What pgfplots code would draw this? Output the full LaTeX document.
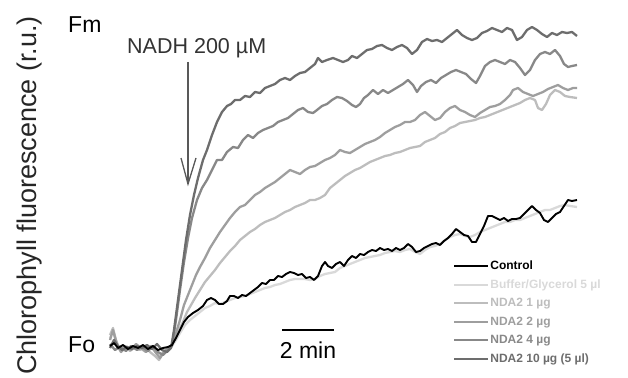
\documentclass[border=0pt]{standalone}
\usepackage{pgfplots}
\pgfplotsset{compat=1.18}
\usepackage{fontspec}
\setmainfont{Liberation Sans}
\definecolor{cCtl}{HTML}{000000}
\definecolor{cBuf}{HTML}{D9D9D9}
\definecolor{cOne}{HTML}{BDBDBD}
\definecolor{cTwo}{HTML}{9E9E9E}
\definecolor{cFour}{HTML}{888888}
\definecolor{cTen}{HTML}{6D6D6D}
\begin{document}
\begin{tikzpicture}
\path[use as bounding box] (0pt,0pt) rectangle (628pt,377pt);
\clip (0pt,0pt) rectangle (628pt,377pt);
\begin{axis}[
  at={(0pt,0pt)}, anchor=south west,
  scale only axis, width=628pt, height=377pt,
  xmin=0, xmax=628, ymin=0, ymax=377, y dir=reverse,
  hide axis, clip=false,
  legend style={at={(axis cs:450,257)}, anchor=north west, draw=none, fill=none,
    font=\fontsize{12}{14}\selectfont\bfseries, row sep=4.5pt,
    nodes={inner sep=1pt, text height=9.5pt, text depth=2.5pt}},
  legend cell align=left,
  legend image code/.code={\draw[#1] (0pt,0pt) -- (34pt,0pt);},
  every axis plot/.append style={line width=2.3pt, line join=round},
]
\addlegendimage{cCtl, line width=2.2pt}
\addlegendentry{\textcolor{cCtl}{Control}}
\addlegendimage{cBuf, line width=2.2pt}
\addlegendentry{\textcolor{cBuf}{Buffer/Glycerol 5 µl}}
\addlegendimage{cOne, line width=2.2pt}
\addlegendentry{\textcolor{cOne}{NDA2 1 µg}}
\addlegendimage{cTwo, line width=2.2pt}
\addlegendentry{\textcolor{cTwo}{NDA2 2 µg}}
\addlegendimage{cFour, line width=2.2pt}
\addlegendentry{\textcolor{cFour}{NDA2 4 µg}}
\addlegendimage{cTen, line width=2.2pt}
\addlegendentry{\textcolor{cTen}{NDA2 10 µg (5 µl)}}

% Buffer/Glycerol
\addplot[cBuf, forget plot] coordinates {
(110,338)(113,331)(117,344)(121,350)(126,346)(131,349)(136,345)(141,349)(146,352)(151,347)(156,352)(160,356)(164,351)(168,348)(172,346)(176,340)(180,333)(185,325)(190,320)(195,316)(200,312)(205,308)(210,306)(215,303)(220,304)(225,302)(230,300)(235,298)(240,297)(245,296)(250,294)(255,292)(260,290)(265,288)(270,287)(275,285)(280,284)(285,282)(290,280)(295,279)(300,279)(305,279)(310,280)(315,279)(320,276)(325,274)(330,273)(335,272)(340,268)(345,266)(350,264)(355,262)(360,260)(365,258)(370,257)(375,256)(380,255)(385,253)(390,252)(395,251)(400,252)(405,250)(410,249)(415,252)(420,254)(425,250)(430,247)(435,246)(440,244)(445,240)(450,237)(455,235)(460,234)(465,236)(470,237)(475,235)(480,232)(485,230)(490,228)(495,226)(500,224)(505,222)(510,222)(515,220)(520,220)(525,218)(530,216)(535,214)(540,212)(545,210)(550,210)(555,208)(560,206)(565,205)(570,206)(577,207)};
% NDA2 1 ug
\addplot[cOne, forget plot] coordinates {
(110,335)(113,328)(116,340)(120,350)(125,346)(130,351)(135,347)(140,350)(145,346)(150,352)(155,356)(159,360)(163,353)(167,349)(171,346)(175,338)(179,330)(183,322)(187,312)(191,305)(195,298)(200,290)(205,282)(210,276)(215,270)(220,263)(225,257)(230,251)(235,246)(240,240)(245,236)(250,232)(255,229)(260,225)(265,222)(270,220)(275,218)(280,215)(285,212)(290,210)(295,207)(300,205)(305,203)(310,200)(315,200)(320,198)(325,195)(330,188)(335,184)(340,180)(345,176)(350,173)(355,170)(360,168)(365,165)(370,162)(375,160)(380,158)(385,156)(390,155)(395,153)(400,152)(405,150)(410,148)(415,147)(420,146)(425,142)(430,140)(435,138)(440,134)(445,132)(450,128)(455,126)(460,123)(465,122)(470,121)(475,120)(480,118)(485,117)(490,115)(495,113)(500,111)(505,109)(510,107)(515,105)(520,103)(525,100)(530,98)(535,100)(538,108)(542,110)(546,104)(550,95)(555,90)(560,92)(565,96)(570,97)(577,98)};
% NDA2 2 ug
\addplot[cTwo, forget plot] coordinates {
(110,340)(113,330)(117,345)(121,352)(126,347)(131,350)(136,344)(141,348)(146,352)(151,346)(156,353)(160,358)(164,352)(168,348)(172,345)(176,333)(180,320)(184,305)(188,295)(192,285)(196,275)(200,267)(205,258)(210,248)(215,240)(220,232)(225,225)(230,218)(235,212)(240,207)(245,205)(250,200)(255,195)(260,192)(265,188)(270,185)(275,182)(280,178)(285,174)(290,170)(295,172)(300,174)(305,170)(310,167)(315,166)(320,163)(325,160)(330,158)(335,155)(340,150)(345,152)(350,153)(355,150)(360,147)(365,144)(370,142)(375,140)(380,137)(385,133)(390,130)(395,127)(400,125)(405,122)(410,122)(415,120)(420,115)(425,112)(430,116)(435,120)(440,118)(445,112)(450,108)(455,106)(460,110)(465,112)(470,115)(475,117)(480,113)(485,110)(490,107)(495,106)(500,104)(505,100)(510,95)(513,90)(518,88)(523,92)(528,94)(533,96)(538,94)(543,92)(548,89)(553,87)(558,85)(563,88)(568,90)(573,88)(577,88)};
% NDA2 4 ug
\addplot[cFour, forget plot] coordinates {
(110,344)(115,350)(120,347)(126,351)(131,346)(137,350)(142,347)(148,351)(153,346)(158,352)(163,355)(168,350)(172,346)(176,320)(180,290)(184,262)(188,238)(192,218)(197,200)(202,188)(207,180)(212,170)(217,160)(222,160)(227,152)(233,147)(238,148)(243,140)(248,135)(253,138)(258,133)(263,130)(268,128)(273,126)(278,122)(283,120)(288,118)(293,114)(298,110)(303,108)(308,112)(313,113)(317,110)(322,106)(327,104)(332,100)(337,97)(342,98)(347,101)(352,105)(356,107)(360,104)(364,98)(368,95)(373,90)(378,94)(383,90)(388,93)(393,90)(398,87)(403,84)(408,80)(413,85)(417,92)(421,86)(426,82)(431,80)(436,83)(441,78)(446,75)(451,72)(456,70)(461,72)(466,74)(471,79)(476,83)(480,76)(485,66)(490,62)(495,60)(500,62)(505,64)(510,60)(515,62)(520,68)(525,75)(530,70)(535,60)(540,54)(545,52)(550,54)(555,50)(560,56)(564,64)(568,67)(572,66)(577,65)};
% NDA2 10 ug
\addplot[cTen, forget plot] coordinates {
(110,348)(114,340)(118,346)(122,350)(127,347)(132,349)(137,346)(142,348)(147,345)(152,349)(157,344)(162,350)(167,352)(171,348)(174,330)(178,300)(182,270)(186,240)(190,215)(194,195)(198,178)(203,160)(207,150)(212,135)(217,122)(222,112)(227,106)(231,104)(235,100)(240,100)(245,96)(250,97)(255,92)(260,93)(265,88)(270,86)(275,84)(280,80)(285,78)(290,80)(295,76)(300,73)(305,72)(310,68)(315,64)(318,58)(322,62)(327,60)(333,58)(338,60)(343,62)(348,60)(352,56)(357,58)(362,54)(367,50)(372,49)(377,46)(382,45)(387,48)(392,50)(397,47)(402,45)(407,48)(412,54)(417,50)(422,42)(427,39)(432,41)(437,40)(442,42)(447,38)(452,34)(457,30)(462,35)(467,38)(472,40)(477,38)(482,33)(487,31)(492,28)(497,30)(502,32)(507,28)(512,30)(517,40)(522,37)(527,30)(532,27)(537,30)(542,34)(547,37)(552,33)(557,35)(562,32)(567,33)(572,32)(577,36)};
% Control
\addplot[cCtl, forget plot, line width=1.9pt] coordinates {
(110,346)(114,343)(118,348)(123,345)(128,349)(133,346)(138,348)(143,345)(148,349)(153,346)(158,350)(163,348)(168,347)(172,345)(176,338)(180,330)(184,322)(188,317)(193,313)(198,310)(203,306)(207,300)(211,298)(215,300)(219,304)(223,304)(227,301)(230,296)(234,296)(238,298)(242,295)(246,296)(250,293)(254,290)(258,287)(262,283)(266,284)(270,280)(274,280)(278,276)(282,277)(286,274)(290,272)(294,273)(298,275)(302,274)(306,278)(310,277)(314,280)(318,276)(322,266)(325,262)(328,266)(332,268)(336,264)(340,262)(344,266)(348,260)(352,256)(356,258)(360,254)(364,255)(368,252)(372,250)(376,251)(380,248)(384,250)(388,249)(392,251)(396,248)(400,250)(404,248)(408,244)(412,247)(416,252)(420,251)(424,248)(428,246)(432,244)(436,243)(440,245)(444,241)(448,238)(452,234)(456,229)(460,232)(464,235)(468,236)(472,242)(476,242)(480,234)(484,226)(488,216)(492,216)(496,218)(500,220)(504,218)(508,221)(512,219)(516,219)(520,218)(524,214)(528,210)(532,206)(536,210)(540,213)(544,220)(548,222)(552,218)(556,214)(560,212)(564,206)(568,200)(572,201)(577,200)};

% annotations
\node[anchor=base west, inner sep=0pt, rotate=90, text=black!85, font=\fontsize{27}{30}\selectfont] at (axis cs:36,375) {Chlorophyll fluorescence (r.u.)};
\node[anchor=base west, inner sep=0pt, font=\fontsize{23}{26}\selectfont] at (axis cs:68,33) {Fm};
\node[anchor=base west, inner sep=0pt, font=\fontsize{23}{26}\selectfont] at (axis cs:68,352) {Fo};
\node[anchor=base west, inner sep=0pt, text=black!80, font=\fontsize{21.5}{24}\selectfont] at (axis cs:127,54) {NADH 200 µM};
\draw[black!65, line width=1.3pt] (axis cs:188,62) -- (axis cs:188,184);
\draw[black!65, line width=1.3pt] (axis cs:181,158) -- (axis cs:188,184) -- (axis cs:196,158);
\draw[black, line width=2.2pt] (axis cs:282,330) -- (axis cs:334,330);
\node[anchor=base, inner sep=0pt, font=\fontsize{23}{26}\selectfont] at (axis cs:308,358) {2 min};
\end{axis}
\end{tikzpicture}
\end{document}
